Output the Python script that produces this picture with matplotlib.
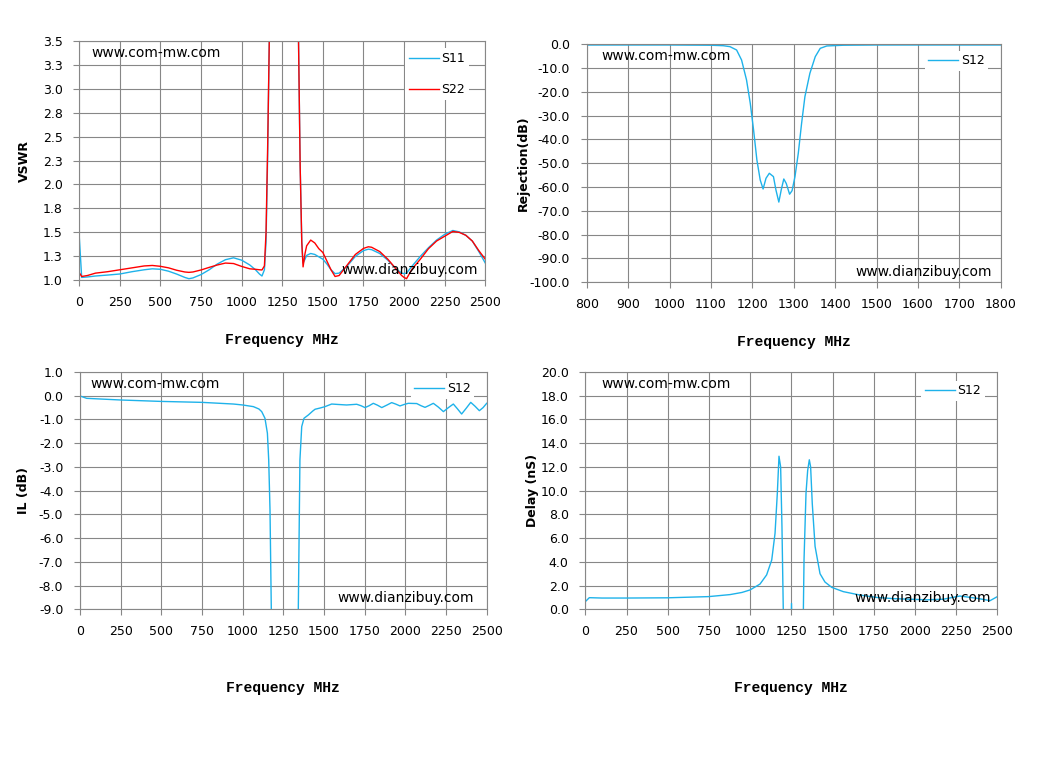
import matplotlib
matplotlib.use("Agg")
import matplotlib.pyplot as plt

# ---- data ----
freq_vswr = [0, 15, 50, 100, 175, 250, 325, 400, 450, 500, 550, 600, 650, 675, 700,
             750, 800, 850, 900, 950, 1000, 1050, 1085, 1110, 1125, 1140, 1150, 1160,
             1170, 1180, 1250, 1340, 1350, 1360, 1370, 1378, 1390, 1400, 1425, 1450,
             1475, 1500, 1525, 1550, 1575, 1600, 1650, 1700, 1750, 1780, 1800, 1850,
             1900, 1950, 1985, 2000, 2015, 2050, 2100, 2150, 2200, 2250, 2300, 2340,
             2380, 2420, 2460, 2500]
s11_vswr = [1.455, 1.03, 1.035, 1.045, 1.055, 1.066, 1.09, 1.11, 1.12, 1.115, 1.095,
            1.065, 1.03, 1.017, 1.025, 1.06, 1.11, 1.17, 1.215, 1.235, 1.21, 1.16,
            1.11, 1.065, 1.045, 1.11, 1.4, 2.3, 3.5, 6.0, 10.0, 6.0, 3.5, 2.2, 1.4,
            1.18, 1.22, 1.26, 1.28, 1.27, 1.245, 1.22, 1.17, 1.11, 1.07, 1.075, 1.15,
            1.25, 1.31, 1.325, 1.32, 1.28, 1.21, 1.12, 1.075, 1.07, 1.075, 1.15, 1.25,
            1.34, 1.42, 1.48, 1.52, 1.505, 1.47, 1.41, 1.30, 1.18]
s22_vswr = [1.08, 1.04, 1.05, 1.075, 1.09, 1.11, 1.13, 1.15, 1.155, 1.146, 1.13,
            1.105, 1.087, 1.083, 1.087, 1.108, 1.135, 1.16, 1.18, 1.175, 1.145, 1.12,
            1.115, 1.11, 1.108, 1.15, 1.5, 2.4, 3.5, 6.0, 10.0, 6.0, 3.5, 2.2, 1.4,
            1.14, 1.28, 1.36, 1.42, 1.39, 1.33, 1.29, 1.2, 1.11, 1.04, 1.05, 1.16,
            1.27, 1.333, 1.35, 1.345, 1.30, 1.22, 1.12, 1.05, 1.03, 1.017, 1.12, 1.22,
            1.33, 1.41, 1.46, 1.51, 1.50, 1.47, 1.41, 1.31, 1.22]

freq_rej = [800, 900, 1000, 1100, 1130, 1146, 1162, 1174, 1186, 1195, 1203, 1211,
            1219, 1226, 1233, 1241, 1251, 1257, 1264, 1270, 1276, 1282, 1290, 1296,
            1303, 1311, 1319, 1327, 1339, 1352, 1364, 1380, 1420, 1500, 1600, 1700, 1800]
s12_rej = [-0.3, -0.3, -0.3, -0.4, -0.6, -1.0, -2.4, -6.6, -15.0, -24.8, -36.0, -48.6,
           -57.0, -60.8, -56.3, -54.2, -55.6, -61.2, -66.3, -61.0, -56.6, -58.5, -63.0,
           -61.5, -55.6, -45.8, -33.2, -22.0, -12.2, -5.2, -1.7, -0.7, -0.4, -0.3, -0.3,
           -0.3, -0.3]

freq_il = [0, 41, 250, 500, 750, 943, 1000, 1066, 1100, 1117, 1137, 1152, 1160, 1168,
           1176, 1185, 1250, 1335, 1342, 1352, 1363, 1377, 1404, 1430, 1445, 1475, 1506,
           1547, 1590, 1639, 1701, 1727, 1752, 1778, 1803, 1829, 1855, 1885, 1916, 1940,
           1967, 1992, 2018, 2070, 2096, 2121, 2146, 2172, 2203, 2234, 2265, 2295, 2320,
           2346, 2374, 2402, 2428, 2455, 2478, 2500]
s12_il = [-0.01, -0.11, -0.18, -0.24, -0.28, -0.35, -0.39, -0.46, -0.56, -0.67, -0.95,
          -1.58, -2.7, -4.8, -9.0, -15.0, -30.0, -15.0, -9.0, -2.7, -1.3, -0.95, -0.81,
          -0.65, -0.57, -0.52, -0.46, -0.35, -0.37, -0.39, -0.36, -0.42, -0.5, -0.42,
          -0.32, -0.4, -0.5, -0.4, -0.29, -0.35, -0.43, -0.37, -0.32, -0.33, -0.42,
          -0.49, -0.41, -0.32, -0.48, -0.67, -0.5, -0.35, -0.55, -0.77, -0.53, -0.28,
          -0.44, -0.63, -0.5, -0.32]

freq_gd = [0, 24, 100, 250, 500, 748, 878, 950, 999, 1060, 1100, 1131, 1151, 1165,
           1175, 1185, 1193, 1201, 1210, 1245, 1251, 1257, 1318, 1323, 1327, 1339, 1349,
           1359, 1367, 1377, 1394, 1424, 1454, 1495, 1565, 1667, 1768, 1869, 1970, 2071,
           2172, 2273, 2375, 2456, 2500]
s12_gd = [0.65, 0.98, 0.95, 0.95, 0.97, 1.07, 1.24, 1.42, 1.63, 2.13, 2.9, 4.16, 6.4,
          9.8, 12.9, 12.0, 7.0, 0.0, -5.0, -5.0, 0.5, -5.0, -5.0, 0.0, 4.2, 9.8, 11.7,
          12.6, 12.0, 8.9, 5.3, 3.0, 2.3, 1.85, 1.49, 1.2, 1.0, 0.9, 0.85, 0.8, 0.85,
          1.12, 0.93, 0.73, 1.07]

freq_ticks = [0, 250, 500, 750, 1000, 1250, 1500, 1750, 2000, 2250, 2500]
rej_freq_ticks = [800, 900, 1000, 1100, 1200, 1300, 1400, 1500, 1600, 1700, 1800]
vswr_ticks = [1.0, 1.25, 1.5, 1.75, 2.0, 2.25, 2.5, 2.75, 3.0, 3.25, 3.5]
vswr_labels = ["1.0", "1.3", "1.5", "1.8", "2.0", "2.3", "2.5", "2.8", "3.0", "3.3", "3.5"]
rej_ticks = [0, -10, -20, -30, -40, -50, -60, -70, -80, -90, -100]
il_ticks = [1, 0, -1, -2, -3, -4, -5, -6, -7, -8, -9]
gd_ticks = [0, 2, 4, 6, 8, 10, 12, 14, 16, 18, 20]

BLUE = "#1eb2ea"
RED = "#ff0000"
GRID = "#878787"

fig = plt.figure(figsize=(10.61, 7.57), dpi=100)
fig.patch.set_facecolor("white")

ax_vswr = fig.add_axes([0.0747, 0.6297, 0.3827, 0.3165])
ax_rej = fig.add_axes([0.5530, 0.6271, 0.3902, 0.3144])
ax_il = fig.add_axes([0.0754, 0.1951, 0.3833, 0.3135])
ax_gd = fig.add_axes([0.5517, 0.1951, 0.3883, 0.3135])


def style_axes(ax, xticks, yticks, ylabels, ylabel, ylab_x, xlab_y, legend_anchor,
               spacing=1.0):
    ax.set_xlim(xticks[0], xticks[-1])
    ax.set_ylim(min(yticks), max(yticks))
    ax.set_xticks(xticks)
    ax.set_xticklabels([str(t) for t in xticks])
    ax.set_yticks(yticks)
    ax.set_yticklabels(ylabels)
    ax.grid(True, color=GRID, linewidth=0.8)
    ax.set_axisbelow(True)
    for sp in ax.spines.values():
        sp.set_color(GRID)
        sp.set_linewidth(0.8)
    ax.tick_params(axis="both", direction="out", length=4, width=0.8, color=GRID,
                   labelsize=9, labelcolor="black")
    ax.tick_params(axis="x", pad=7)
    ax.tick_params(axis="y", pad=8)
    ax.set_ylabel(ylabel, fontsize=9, fontweight="bold")
    ax.yaxis.set_label_coords(ylab_x, 0.5)
    ax.set_xlabel("Frequency MHz", fontsize=10.5, fontweight="bold",
                  family="Liberation Mono")
    ax.xaxis.set_label_coords(0.5, xlab_y)
    leg = ax.legend(loc="upper right", bbox_to_anchor=legend_anchor, fontsize=9,
                    frameon=True, fancybox=False, framealpha=1.0, edgecolor="none",
                    handlelength=2.4, handletextpad=0.2, labelspacing=spacing,
                    borderpad=0.3)
    leg.get_frame().set_facecolor("white")


ax_vswr.plot(freq_vswr, s11_vswr, color=BLUE, linewidth=1.0, label="S11")
ax_vswr.plot(freq_vswr, s22_vswr, color=RED, linewidth=1.0, label="S22")
style_axes(ax_vswr, freq_ticks, vswr_ticks, vswr_labels, "VSWR", -0.12, -0.221,
           (0.975, 0.995), spacing=1.45)
ax_vswr.text(0.03, 0.949, "www.com-mw.com", transform=ax_vswr.transAxes, fontsize=10,
             va="center", ha="left")
ax_vswr.text(0.982, 0.043, "www.dianzibuy.com", transform=ax_vswr.transAxes,
             fontsize=10, va="center", ha="right")

ax_rej.plot(freq_rej, s12_rej, color=BLUE, linewidth=1.0, label="S12")
style_axes(ax_rej, rej_freq_ticks, rej_ticks, ["%.1f" % t for t in rej_ticks],
           "Rejection(dB)", -0.138, -0.223, (0.985, 1.0))
ax_rej.text(0.036, 0.951, "www.com-mw.com", transform=ax_rej.transAxes, fontsize=10,
            va="center", ha="left")
ax_rej.text(0.979, 0.042, "www.dianzibuy.com", transform=ax_rej.transAxes,
            fontsize=10, va="center", ha="right")

ax_il.plot(freq_il, s12_il, color=BLUE, linewidth=1.0, label="S12")
style_axes(ax_il, freq_ticks, il_ticks, ["%.1f" % t for t in il_ticks],
           "IL (dB)", -0.122, -0.303, (0.985, 1.0))
ax_il.text(0.025, 0.949, "www.com-mw.com", transform=ax_il.transAxes, fontsize=10,
           va="center", ha="left")
ax_il.text(0.969, 0.049, "www.dianzibuy.com", transform=ax_il.transAxes,
           fontsize=10, va="center", ha="right")

ax_gd.plot(freq_gd, s12_gd, color=BLUE, linewidth=1.0, label="S12")
style_axes(ax_gd, freq_ticks, gd_ticks, ["%.1f" % t for t in gd_ticks],
           "Delay (nS)", -0.112, -0.30, (0.985, 0.99))
ax_gd.text(0.040, 0.949, "www.com-mw.com", transform=ax_gd.transAxes, fontsize=10,
           va="center", ha="left")
ax_gd.text(0.985, 0.049, "www.dianzibuy.com", transform=ax_gd.transAxes,
           fontsize=10, va="center", ha="right")

fig.savefig("out.png", dpi=100)
